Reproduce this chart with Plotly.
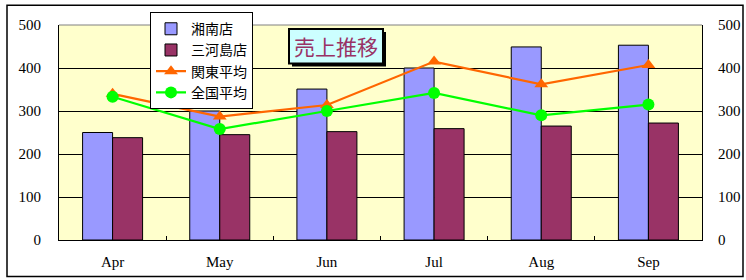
import plotly.graph_objects as go

months = ["Apr", "May", "Jun", "Jul", "Aug", "Sep"]
shonan = [250, 300, 351, 400, 449, 453]
mikawashima = [238, 245, 252, 259, 265, 272]
kanto_avg = [340, 287, 314, 415, 362, 407]
zenkoku_avg = [333, 258, 300, 342, 290, 315]
y_ticks = [0, 100, 200, 300, 400, 500]

W, H = 746, 280
L, R, T, B = 59, 702, 22, 240  # plot area in px

def px_x(p):
    return (p - L) / (R - L)

def px_y(p):
    return (B - p) / (B - T)

fig = go.Figure()
fig.add_trace(go.Bar(x=months, y=shonan, name="湘南店",
                     marker=dict(color="#9999FF", line=dict(color="black", width=1))))
fig.add_trace(go.Bar(x=months, y=mikawashima, name="三河島店",
                     marker=dict(color="#993366", line=dict(color="black", width=1))))
fig.add_trace(go.Scatter(x=months, y=kanto_avg, name="関東平均", yaxis="y2",
                         mode="lines+markers",
                         line=dict(color="#FF6600", width=2.2),
                         marker=dict(symbol="triangle-up", size=12, color="#FF6600")))
fig.add_trace(go.Scatter(x=months, y=zenkoku_avg, name="全国平均", yaxis="y2",
                         mode="lines+markers",
                         line=dict(color="#00FF00", width=2.2),
                         marker=dict(symbol="circle", size=12, color="#00FF00")))

tickfont = dict(family="Liberation Serif", size=15, color="black")

fig.update_layout(
    width=W, height=H,
    margin=dict(l=L, r=W - R, t=T, b=H - B, pad=0),
    paper_bgcolor="white",
    plot_bgcolor="#FFFFCC",
    barmode="group", bargap=0.44, bargroupgap=0,
    showlegend=True,
    legend=dict(x=px_x(150), y=px_y(9), xanchor="left", yanchor="top",
                bgcolor="white", bordercolor="black", borderwidth=1,
                font=dict(family="Noto Sans CJK JP", size=14, color="black"),
                itemwidth=30, tracegroupgap=0),
    xaxis=dict(type="category", showgrid=False, showline=True, linecolor="black",
               linewidth=1, ticks="inside", tickson="boundaries", ticklen=4,
               tickcolor="black", tickfont=tickfont, ticklabelstandoff=8,
               mirror=False, automargin=False),
    yaxis=dict(range=[0, 500], tickvals=y_ticks, showgrid=True, gridcolor="black",
               gridwidth=1, showline=True, linecolor="black", linewidth=1,
               ticks="", tickfont=tickfont, ticklabelstandoff=14, zeroline=False,
               automargin=False),
    yaxis2=dict(range=[0, 500], tickvals=y_ticks, overlaying="y", side="right",
                showgrid=False, showline=True, linecolor="black", linewidth=1,
                ticks="", tickfont=tickfont, ticklabelstandoff=12, zeroline=False,
                automargin=False),
)

# top border of plot area (gray)
fig.add_shape(type="line", xref="paper", yref="paper", x0=0, x1=1, y0=1, y1=1,
              line=dict(color="#808080", width=1), layer="above")
# outer chart border
fig.add_shape(type="rect", xref="paper", yref="paper",
              x0=px_x(7), x1=px_x(743), y0=px_y(277), y1=px_y(2),
              line=dict(color="black", width=1.5), fillcolor="rgba(0,0,0,0)")
# title box shadow
fig.add_shape(type="rect", xref="paper", yref="paper",
              x0=px_x(292), x1=px_x(386), y0=px_y(64), y1=px_y(29),
              line=dict(color="black", width=0), fillcolor="black", layer="above")
# title box
fig.add_shape(type="rect", xref="paper", yref="paper",
              x0=px_x(289), x1=px_x(383), y0=px_y(61), y1=px_y(26),
              line=dict(color="black", width=2), fillcolor="#CCFFFF", layer="above")
fig.add_annotation(x=px_x(336), y=px_y(43.5), xref="paper", yref="paper",
                   text="売上推移", showarrow=False,
                   font=dict(family="Noto Sans CJK JP", size=21, color="#993366"),
                   xanchor="center", yanchor="middle")

fig.write_html("out.html")
